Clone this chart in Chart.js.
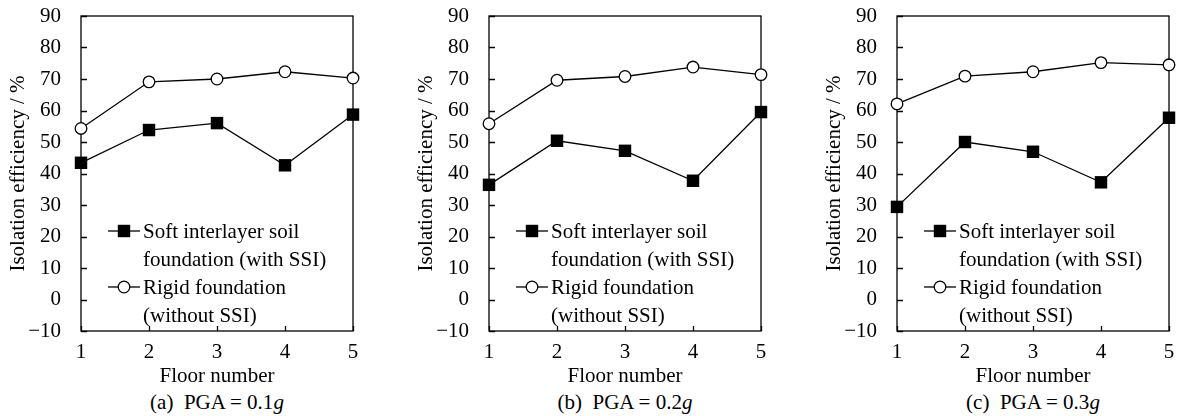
<!DOCTYPE html>
<html>
<head>
<meta charset="utf-8">
<script src="https://cdn.jsdelivr.net/npm/chart.js@4.4.1/dist/chart.umd.min.js"></script>
<style>
  body { margin: 0; background: #fff; width: 1184px; height: 416px; overflow: hidden; position: relative; font-family: "Liberation Serif", "Times New Roman", serif; }
  .panel { position: absolute; top: 0; width: 370px; height: 416px; }
  .panel canvas { position: absolute; left: 0; top: 0; }
  .caption { position: absolute; left: 81px; width: 272px; top: 390px; text-align: center; font-size: 21px; color: #000; white-space: pre; }
</style>
</head>
<body>
<div class="panel" style="left:0px"><canvas id="chartA" width="370" height="389"></canvas><div class="caption">(a)  PGA = 0.1<i>g</i></div></div>
<div class="panel" style="left:408px"><canvas id="chartB" width="370" height="389"></canvas><div class="caption">(b)  PGA = 0.2<i>g</i></div></div>
<div class="panel" style="left:816px"><canvas id="chartC" width="370" height="389"></canvas><div class="caption">(c)  PGA = 0.3<i>g</i></div></div>
<script>
const floors = [1, 2, 3, 4, 5];

// isolation efficiency (%)
const softA = [43.4, 53.8, 56.0, 42.6, 58.7];
const rigidA = [54.3, 69.1, 70.0, 72.3, 70.3];
const softB = [36.4, 50.4, 47.2, 37.7, 59.5];
const rigidB = [55.8, 69.6, 70.8, 73.8, 71.4];
const softC = [29.4, 50.0, 46.9, 37.2, 57.7];
const rigidC = [62.1, 70.9, 72.3, 75.2, 74.5];

const softLabel = ["Soft interlayer soil", "foundation (with SSI)"];
const rigidLabel = ["Rigid foundation", "(without SSI)"];

const FONT = "'Liberation Serif', 'Times New Roman', serif";

// frame box + inward ticks, drawn under the markers
const framePlugin = {
  id: "frame",
  beforeDatasetsDraw(chart) {
    const { ctx, chartArea: a, scales } = chart;
    const x = scales.x, y = scales.y;
    ctx.save();
    ctx.strokeStyle = "#000";
    ctx.lineWidth = 1.3;
    ctx.strokeRect(a.left, a.top, a.right - a.left, a.bottom - a.top);
    ctx.beginPath();
    y.ticks.forEach(t => {
      const py = Math.round(y.getPixelForValue(t.value)) + 0.5;
      ctx.moveTo(a.left, py);
      ctx.lineTo(a.left + 6, py);
    });
    x.ticks.forEach((t, i) => {
      const px = Math.round(x.getPixelForTick(i)) + 0.5;
      ctx.moveTo(px, a.bottom);
      ctx.lineTo(px, a.bottom - 5);
    });
    ctx.stroke();
    ctx.restore();
  },
  afterDraw(chart) {
    // legend inside the plot, lower right
    const { ctx, chartArea: a } = chart;
    const lines = [softLabel, rigidLabel];
    ctx.save();
    ctx.font = "21px " + FONT;
    ctx.fillStyle = "#000";
    ctx.textBaseline = "middle";
    chart.data.datasets.forEach((ds, i) => {
      const cy = a.top + 215 + i * 56;
      const lx = a.left + 27;
      ctx.strokeStyle = "#000";
      ctx.lineWidth = 1.3;
      ctx.beginPath();
      ctx.moveTo(lx, cy);
      ctx.lineTo(lx + 32, cy);
      ctx.stroke();
      const mx = lx + 16;
      ctx.fillStyle = ds.pointBackgroundColor;
      ctx.beginPath();
      if (ds.pointStyle === "rect") {
        const s = ds.pointRadius * Math.SQRT1_2;
        ctx.rect(mx - s, cy - s, 2 * s, 2 * s);
        ctx.fill();
      } else {
        ctx.arc(mx, cy, ds.pointRadius, 0, Math.PI * 2);
        ctx.fill();
        ctx.stroke();
      }
      ctx.fillStyle = "#000";
      lines[i].forEach((t, j) => ctx.fillText(t, a.left + 62, cy + 1 + j * 28.5));
    });
    ctx.restore();
  }
};

function makeChart(id, soft, rigid) {
  return new Chart(document.getElementById(id), {
    type: "line",
    data: {
      labels: floors,
      datasets: [
        {
          label: softLabel.join(" "),
          data: soft,
          borderColor: "#000",
          borderWidth: 1.3,
          pointStyle: "rect",
          pointRadius: 8.8,
          pointBackgroundColor: "#000",
          pointBorderWidth: 0,
          pointBorderColor: "#000",
          clip: false
        },
        {
          label: rigidLabel.join(" "),
          data: rigid,
          borderColor: "#000",
          borderWidth: 1.3,
          pointStyle: "circle",
          pointRadius: 5.8,
          pointBackgroundColor: "#fff",
          pointBorderWidth: 1.3,
          pointBorderColor: "#000",
          clip: false
        }
      ]
    },
    options: {
      responsive: false,
      animation: false,
      layout: { padding: { top: 16, right: 17, left: 0, bottom: 0 } },
      plugins: { legend: { display: false }, tooltip: { enabled: false } },
      scales: {
        x: {
          type: "category",
          offset: false,
          grid: { display: false },
          border: { display: false },
          ticks: { color: "#000", font: { family: FONT, size: 21 }, padding: 1, maxRotation: 0 },
          title: { display: true, text: "Floor number", color: "#000", font: { family: FONT, size: 21 }, padding: { top: 0, bottom: 0 } },
          afterFit: s => { s.height = 58; }
        },
        y: {
          min: -10,
          max: 90,
          grid: { display: false },
          border: { display: false },
          ticks: {
            stepSize: 10,
            color: "#000",
            font: { family: FONT, size: 21 },
            padding: 12,
            callback: v => String(v).replace("-", "\u2212")
          },
          title: { display: true, text: "Isolation efficiency / %", color: "#000", font: { family: FONT, size: 21 }, padding: { top: 6, bottom: 0 } },
          afterFit: s => { s.width = 81; s.paddingTop = 0; s.paddingBottom = 0; }
        }
      }
    },
    plugins: [framePlugin]
  });
}

makeChart("chartA", softA, rigidA);
makeChart("chartB", softB, rigidB);
makeChart("chartC", softC, rigidC);
</script>
</body>
</html>
